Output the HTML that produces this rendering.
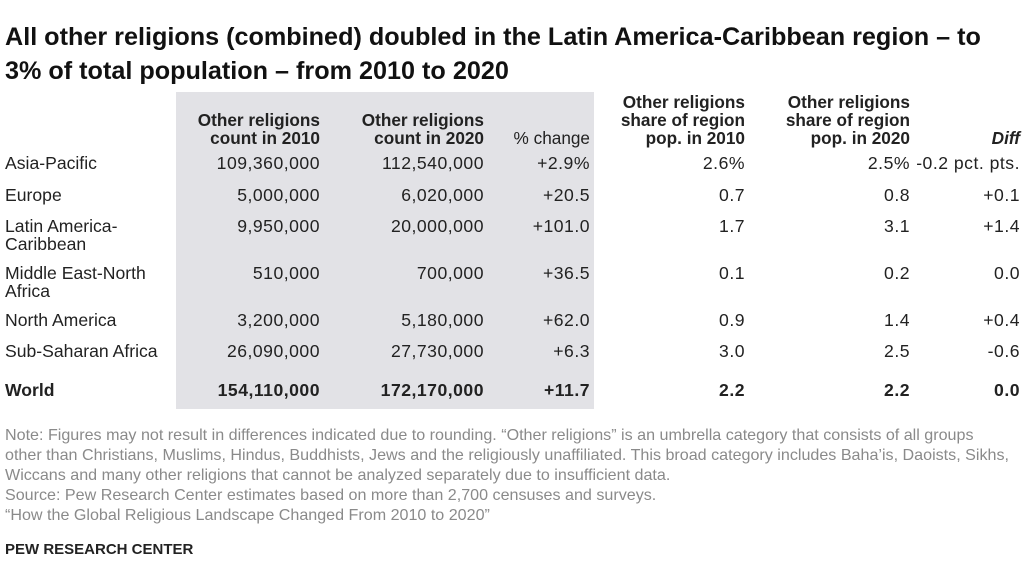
<!DOCTYPE html>
<html><head><meta charset="utf-8"><style>
body{margin:0;width:1023px;height:585px;background:#fff;position:relative;overflow:hidden;font-family:"Liberation Sans",Arial,sans-serif;color:#222}
.a{position:absolute;white-space:nowrap;line-height:18px}
.r{text-align:right}
.h{font-weight:bold;font-size:17.2px;line-height:18px}
.c{font-size:17.6px}
.num{letter-spacing:0.5px}
.n{font-size:16.1px;color:#8a8a8a;line-height:20px}
</style></head><body>
<div class="a" style="left:5px;top:20px;font-size:25.2px;font-weight:bold;line-height:34px;color:#111">All other religions (combined) doubled in the Latin America-Caribbean region – to<br>3% of total population – from 2010 to 2020</div>
<div class="a" style="left:176px;top:92px;width:418px;height:317px;background:#e2e2e6"></div>
<div class="a h r" style="right:703px;top:111px">Other religions<br>count in 2010</div>
<div class="a h r" style="right:539px;top:111px">Other religions<br>count in 2020</div>
<div class="a h r" style="right:433px;top:129px;font-weight:normal">% change</div>
<div class="a h r" style="right:278px;top:93px">Other religions<br>share of region<br>pop. in 2010</div>
<div class="a h r" style="right:113px;top:93px">Other religions<br>share of region<br>pop. in 2020</div>
<div class="a h r" style="right:3px;top:129px;font-style:italic">Diff</div>
<div class="a n" style="left:5px;top:425px">Note: Figures may not result in differences indicated due to rounding. “Other religions” is an umbrella category that consists of all groups<br>other than Christians, Muslims, Hindus, Buddhists, Jews and the religiously unaffiliated. This broad category includes Baha’is, Daoists, Sikhs,<br>Wiccans and many other religions that cannot be analyzed separately due to insufficient data.<br>Source: Pew Research Center estimates based on more than 2,700 censuses and surveys.<br>“How the Global Religious Landscape Changed From 2010 to 2020”</div>
<div class="a" style="left:5px;top:541px;font-size:15px;font-weight:bold;color:#222">PEW RESEARCH CENTER</div>
<script>
const regions=["Asia-Pacific","Europe","Latin America-<br>Caribbean","Middle East-North<br>Africa","North America","Sub-Saharan Africa","World"];
const count2010=["109,360,000","5,000,000","9,950,000","510,000","3,200,000","26,090,000","154,110,000"];
const count2020=["112,540,000","6,020,000","20,000,000","700,000","5,180,000","27,730,000","172,170,000"];
const pctChange=["+2.9%","+20.5","+101.0","+36.5","+62.0","+6.3","+11.7"];
const share2010=["2.6%","0.7","1.7","0.1","0.9","3.0","2.2"];
const share2020=["2.5%","0.8","3.1","0.2","1.4","2.5","2.2"];
const diff=["-0.2 pct. pts.","+0.1","+1.4","0.0","+0.4","-0.6","0.0"];
const tops=[154,186,217,264,311,342,381];
const rights=[703,539,433,278,113,3];
const cols=[count2010,count2020,pctChange,share2010,share2020,diff];
const colNames=["count-2010","count-2020","pct-change","share-2010","share-2020","diff"];
const host=document.body;
regions.forEach((reg,i)=>{
  const bold=i===regions.length-1;
  const l=document.createElement('div');
  l.className='a c';
  l.style.left='5px';l.style.top=tops[i]+'px';
  if(bold)l.style.fontWeight='bold';
  l.innerHTML=reg;
  
  
  host.appendChild(l);
  cols.forEach((col,j)=>{
    const d=document.createElement('div');
    d.className='a c r num';
    d.style.right=rights[j]+'px';d.style.top=tops[i]+'px';
    if(bold)d.style.fontWeight='bold';
    d.textContent=col[i];
    
    
    host.appendChild(d);
  });
});
</script>
</body></html>
